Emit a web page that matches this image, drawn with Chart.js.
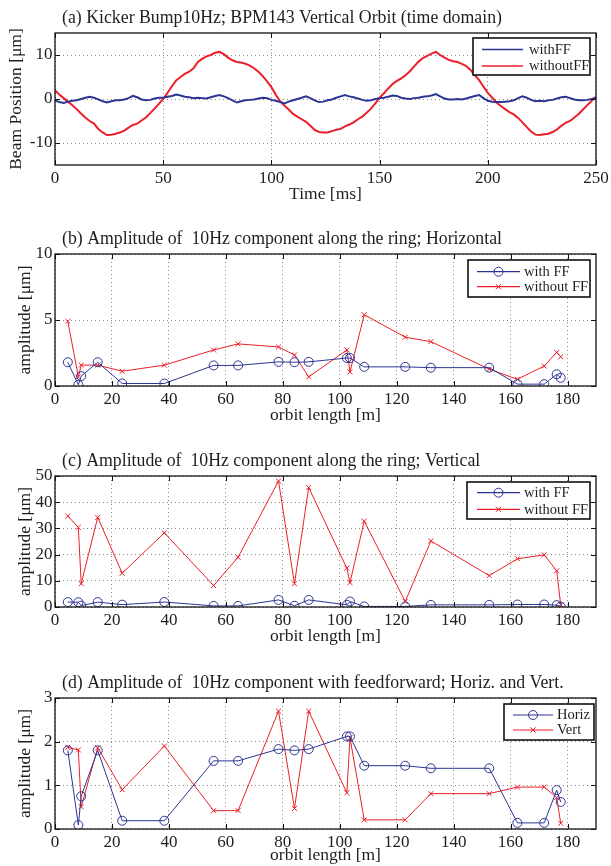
<!DOCTYPE html>
<html>
<head>
<meta charset="utf-8">
<script src="https://cdn.jsdelivr.net/npm/chart.js@4.4.1/dist/chart.umd.min.js"></script>
<style>
  html, body { margin: 0; padding: 0; background: #fff; width: 611px; height: 866px; overflow: hidden; }
  canvas { position: absolute; left: 0; }
</style>
</head>
<body>
<canvas id="ca" width="611" height="205" style="top:0px"></canvas>
<canvas id="cb" width="611" height="211" style="top:215px"></canvas>
<canvas id="cc" width="611" height="212" style="top:435px"></canvas>
<canvas id="cd" width="611" height="211" style="top:655px"></canvas>
<script>
// ---------------- DATA ----------------
// (a) time domain, BPM143 vertical orbit
const timeMs = [0,2,4,6,8,10,12,14,16,18,20,22,24,26,28,30,32,34,36,38,40,42,44,46,48,50,52,54,56,58,60,62,64,66,68,70,72,74,76,78,80,82,84,86,88,90,92,94,96,98,100,102,104,106,108,110,112,114,116,118,120,122,124,126,128,130,132,134,136,138,140,142,144,146,148,150,152,154,156,158,160,162,164,166,168,170,172,174,176,178,180,182,184,186,188,190,192,194,196,198,200,202,204,206,208,210,212,214,216,218,220,222,224,226,228,230,232,234,236,238,240,242,244,246,248,250];
const withFFTime = [-0.3,-0.7,-0.9,-0.6,-0.4,-0.3,0.0,0.3,0.5,0.3,-0.1,-0.5,-0.8,-0.5,-0.3,-0.3,-0.1,0.2,0.7,0.4,-0.1,-0.3,-0.2,0.1,0.3,0.3,0.5,0.7,1.0,0.8,0.5,0.4,0.2,0.3,0.2,0.1,0.4,0.7,0.9,0.6,0.2,-0.3,-0.8,-0.5,-0.3,-0.2,-0.1,0.1,0.3,0.2,-0.2,-0.4,-0.7,-1.0,-0.6,-0.3,0.0,0.3,0.6,0.2,-0.3,-0.7,-0.6,-0.3,-0.1,0.3,0.6,0.9,0.6,0.4,0.1,-0.2,-0.4,-0.3,0.0,0.2,0.3,0.5,0.8,0.7,0.3,0.1,0.0,0.2,0.3,0.5,0.6,0.8,1.1,0.6,0.1,-0.1,-0.1,0.0,-0.1,0.1,0.4,0.7,0.9,0.2,-0.4,-0.6,-0.7,-0.7,-0.6,-0.5,-0.3,0.2,0.6,0.3,-0.2,-0.5,-0.4,-0.5,-0.3,-0.2,0.1,0.4,0.5,0.2,-0.1,-0.3,-0.3,-0.2,0.0,0.3];
const withoutFFTime = [2.0,1.0,0.2,-0.6,-1.4,-2.3,-3.3,-4.2,-5.0,-5.6,-6.8,-7.6,-8.2,-8.1,-7.9,-7.6,-7.2,-6.5,-5.9,-5.6,-4.9,-4.2,-3.2,-2.2,-1.1,0.0,1.4,2.9,4.2,5.0,5.7,6.2,7.0,8.4,9.1,9.7,10.0,10.5,10.7,10.2,9.4,8.8,8.4,8.3,8.0,7.6,7.0,6.2,5.2,4.0,2.7,1.0,-0.5,-1.5,-2.4,-3.4,-4.0,-4.6,-5.2,-6.1,-7.0,-7.5,-7.6,-7.6,-7.3,-7.0,-6.8,-6.2,-5.8,-5.3,-4.6,-4.0,-3.1,-2.2,-1.0,0.3,1.3,2.4,3.4,4.1,4.7,5.4,6.3,7.4,8.5,9.3,9.8,10.3,10.7,10.0,9.4,8.9,8.6,8.4,8.0,7.5,6.6,5.4,4.3,2.8,1.4,0.3,-0.8,-1.6,-2.3,-3.0,-3.5,-4.3,-5.3,-6.4,-7.4,-8.1,-8.2,-8.0,-7.9,-7.5,-6.9,-6.1,-5.4,-5.0,-4.2,-3.4,-2.4,-1.4,-0.4,0.5];

// (b)-(d) BPM positions along the ring [m]
const orbitPos = [4.5,8.2,9.2,15.0,23.6,38.4,55.7,64.3,78.5,84.1,89.1,102.5,103.6,108.6,123.0,132.0,152.5,162.4,171.8,176.2,177.6];
const horizWithFF = [1.80,0.09,0.75,1.80,0.19,0.19,1.56,1.56,1.83,1.80,1.83,2.12,2.12,1.45,1.45,1.39,1.39,0.14,0.14,0.89,0.62];
const horizWithoutFF = [4.9,0.69,1.58,1.58,1.12,1.58,2.73,3.19,2.96,2.35,0.69,2.73,1.07,5.4,3.70,3.36,1.28,0.51,1.51,2.55,2.22];
const vertWithFF = [1.87,1.81,0.51,1.86,0.90,1.90,0.42,0.42,2.70,0.47,2.70,0.83,2.09,0.21,0.21,0.81,0.81,0.96,0.96,0.72,0.13];
const vertWithoutFF = [34.7,30.4,8.9,34.2,12.9,28.3,8.2,19.0,48.1,8.9,45.6,14.8,9.3,32.8,2.1,25.2,12.0,18.4,19.9,13.8,0.9];

// tick labels
const xTicksTime = [0,50,100,150,200,250];
const yTicksTime = [-10,0,10];
const xTicksOrbit = [0,20,40,60,80,100,120,140,160,180];
const yTicksB = [0,5,10];
const yTicksC = [0,10,20,30,40,50];
const yTicksD = [0,1,2,3];

// ---------------- STYLE ----------------
const SERIF = '"Liberation Serif", "DejaVu Serif", serif';
const BLUE = '#2b3593';
const RED = '#ec1f28';
const TXT = '#1e1e1e';
Chart.defaults.font.family = SERIF;
Chart.defaults.color = TXT;

const framePlugin = {
  id: 'frame',
  afterDatasetsDraw(chart, args, opts) {
    const ctx = chart.ctx, a = chart.chartArea, sx = chart.scales.x, sy = chart.scales.y;
    ctx.save();
    ctx.strokeStyle = '#111';
    ctx.lineWidth = 1;
    ctx.beginPath();
    sx.ticks.forEach(t => {
      const p = Math.round(sx.getPixelForValue(t.value)) + 0.5;
      ctx.moveTo(p, a.bottom); ctx.lineTo(p, a.bottom - 5);
      ctx.moveTo(p, a.top); ctx.lineTo(p, a.top + 5);
    });
    sy.ticks.forEach(t => {
      const p = Math.round(sy.getPixelForValue(t.value)) + 0.5;
      ctx.moveTo(a.left, p); ctx.lineTo(a.left + 5, p);
      ctx.moveTo(a.right, p); ctx.lineTo(a.right - 5, p);
    });
    ctx.stroke();
    ctx.lineWidth = 1.3;
    ctx.strokeRect(a.left, a.top, a.right - a.left, a.bottom - a.top);
    ctx.restore();
  },
  afterDraw(chart, args, opts) {
    const ctx = chart.ctx, a = chart.chartArea;
    ctx.save();
    ctx.fillStyle = TXT;
    ctx.font = '17.8px ' + SERIF;
    ctx.textBaseline = 'middle';
    ctx.textAlign = 'left';
    ctx.fillText(opts.title, a.left + 7, a.top - 15);
    ctx.restore();
  }
};

const boxLegendPlugin = {
  id: 'boxLegend',
  afterDraw(chart, args, o) {
    const ctx = chart.ctx;
    ctx.save();
    ctx.fillStyle = '#fff';
    ctx.fillRect(o.x, o.y, o.w, o.h);
    ctx.strokeStyle = '#111';
    ctx.lineWidth = 1.6;
    ctx.strokeRect(o.x, o.y, o.w, o.h);
    chart.data.datasets.forEach((ds, i) => {
      const y = o.rowY[i];
      ctx.strokeStyle = ds.borderColor;
      ctx.lineWidth = o.lineWidth;
      ctx.beginPath(); ctx.moveTo(o.x1, y); ctx.lineTo(o.x2, y); ctx.stroke();
      const mx = (o.x1 + o.x2) / 2;
      ctx.lineWidth = 1;
      if (ds.pointStyle === 'circle') {
        ctx.beginPath(); ctx.arc(mx, y, ds.pointRadius, 0, Math.PI * 2); ctx.stroke();
      } else if (ds.pointStyle === 'crossRot') {
        const r = ds.pointRadius * 0.75;
        ctx.beginPath();
        ctx.moveTo(mx - r, y - r); ctx.lineTo(mx + r, y + r);
        ctx.moveTo(mx - r, y + r); ctx.lineTo(mx + r, y - r);
        ctx.stroke();
      }
      ctx.fillStyle = TXT;
      ctx.font = '14.5px ' + SERIF;
      ctx.textBaseline = 'middle';
      ctx.textAlign = 'left';
      ctx.fillText(ds.label, o.tx, y + 0.5);
    });
    ctx.restore();
  }
};

function xy(xs, ys) { return xs.map((x, i) => ({ x: x, y: ys[i] })); }

function makeChart(id, cfg) {
  const yTitleSize = 17.5;
  new Chart(document.getElementById(id), {
    type: 'line',
    data: { datasets: cfg.datasets },
    options: {
      responsive: false,
      animation: false,
      devicePixelRatio: 1,
      layout: { padding: { top: cfg.padTop, right: 15, bottom: 0, left: 0 } },
      plugins: {
        legend: { display: false },
        tooltip: { enabled: false },
        frame: { title: cfg.title },
        boxLegend: cfg.legend
      },
      scales: {
        x: {
          type: 'linear',
          min: cfg.xMin, max: cfg.xMax,
          afterBuildTicks: s => { s.ticks = cfg.xTicks.map(v => ({ value: v })); },
          afterFit: s => { s.height = cfg.xHeight; s.paddingLeft = 0; s.paddingRight = 0; },
          grid: { color: '#8a8a8a', lineWidth: 1, drawTicks: false },
          border: { display: false, dash: [1, 3] },
          ticks: { padding: 3, maxRotation: 0, autoSkip: false, font: { size: 17 }, color: TXT, callback: v => String(v) },
          title: { display: true, text: cfg.xTitle, font: { size: yTitleSize, lineHeight: 1.2 }, color: TXT, padding: { top: 0, bottom: 0 } }
        },
        y: {
          type: 'linear',
          min: cfg.yMin, max: cfg.yMax,
          afterBuildTicks: s => { s.ticks = cfg.yTicks.map(v => ({ value: v })); },
          afterFit: s => { s.width = 55; s.paddingTop = 0; s.paddingBottom = 0; },
          grid: { color: '#8a8a8a', lineWidth: 1, drawTicks: false },
          border: { display: false, dash: [1, 3] },
          ticks: { padding: 2.5, autoSkip: false, font: { size: 17 }, color: TXT, callback: v => String(v) },
          title: { display: true, text: cfg.yTitle, font: { size: yTitleSize, lineHeight: 1.2 }, color: TXT, padding: { top: cfg.yTitlePad, bottom: 0 } }
        }
      }
    },
    plugins: [framePlugin, boxLegendPlugin]
  });
}

function lineSet(label, color, xs, ys, width) {
  return { label: label, data: xy(xs, ys), borderColor: color, backgroundColor: color, borderWidth: width, pointRadius: 0, tension: 0 };
}
function markSet(label, color, xs, ys, style, r) {
  return { label: label, data: xy(xs, ys), borderColor: color, backgroundColor: 'rgba(0,0,0,0)',
    borderWidth: 1, pointStyle: style, pointRadius: r, pointBorderColor: color, pointBorderWidth: 1,
    pointBackgroundColor: 'rgba(0,0,0,0)', tension: 0 };
}

// (a)
makeChart('ca', {
  title: '(a) Kicker Bump10Hz; BPM143 Vertical Orbit (time domain)',
  padTop: 33, xHeight: 40,
  xMin: 0, xMax: 250, yMin: -15, yMax: 15,
  xTicks: xTicksTime, yTicks: yTicksTime,
  xTitle: 'Time [ms]', yTitle: 'Beam Position [\u03bcm]', yTitlePad: 5.5,
  datasets: [
    lineSet('withFF', BLUE, timeMs, withFFTime, 2),
    lineSet('withoutFF', RED, timeMs, withoutFFTime, 2)
  ],
  legend: { x: 473, y: 38, w: 117, h: 37, rowY: [49.5, 66], x1: 482, x2: 523, tx: 529, lineWidth: 1.3 }
});

// (b)
makeChart('cb', {
  title: '(b) Amplitude of  10Hz component along the ring; Horizontal',
  padTop: 39, xHeight: 40,
  xMin: 0, xMax: 190, yMin: 0, yMax: 10,
  xTicks: xTicksOrbit, yTicks: yTicksB,
  xTitle: 'orbit length [m]', yTitle: 'amplitude [\u03bcm]', yTitlePad: 14.5,
  datasets: [
    markSet('with FF', BLUE, orbitPos, horizWithFF, 'circle', 4.5),
    markSet('without FF', RED, orbitPos, horizWithoutFF, 'crossRot', 3.5)
  ],
  legend: { x: 468, y: 45, w: 122, h: 37, rowY: [56.7, 71.7], x1: 477, x2: 520, tx: 524, lineWidth: 1.2 }
});

// (c)
makeChart('cc', {
  title: '(c) Amplitude of  10Hz component along the ring; Vertical',
  padTop: 41, xHeight: 40,
  xMin: 0, xMax: 190, yMin: 0, yMax: 50,
  xTicks: xTicksOrbit, yTicks: yTicksC,
  xTitle: 'orbit length [m]', yTitle: 'amplitude [\u03bcm]', yTitlePad: 14.5,
  datasets: [
    markSet('with FF', BLUE, orbitPos, vertWithFF, 'circle', 4.5),
    markSet('without FF', RED, orbitPos, vertWithoutFF, 'crossRot', 3.5)
  ],
  legend: { x: 467, y: 47, w: 123, h: 37, rowY: [57.7, 74.3], x1: 477, x2: 520, tx: 524, lineWidth: 1.2 }
});

// (d)
makeChart('cd', {
  title: '(d) Amplitude of  10Hz component with feedforward; Horiz. and Vert.',
  padTop: 43, xHeight: 37,
  xMin: 0, xMax: 190, yMin: 0, yMax: 3,
  xTicks: xTicksOrbit, yTicks: yTicksD,
  xTitle: 'orbit length [m]', yTitle: 'amplitude [\u03bcm]', yTitlePad: 14.5,
  datasets: [
    markSet('Horiz', BLUE, orbitPos, horizWithFF, 'circle', 4.5),
    markSet('Vert', RED, orbitPos, vertWithFF, 'crossRot', 3.5)
  ],
  legend: { x: 504, y: 49, w: 90, h: 36, rowY: [60, 75], x1: 513, x2: 553, tx: 557, lineWidth: 1.2 }
});
</script>
</body>
</html>
